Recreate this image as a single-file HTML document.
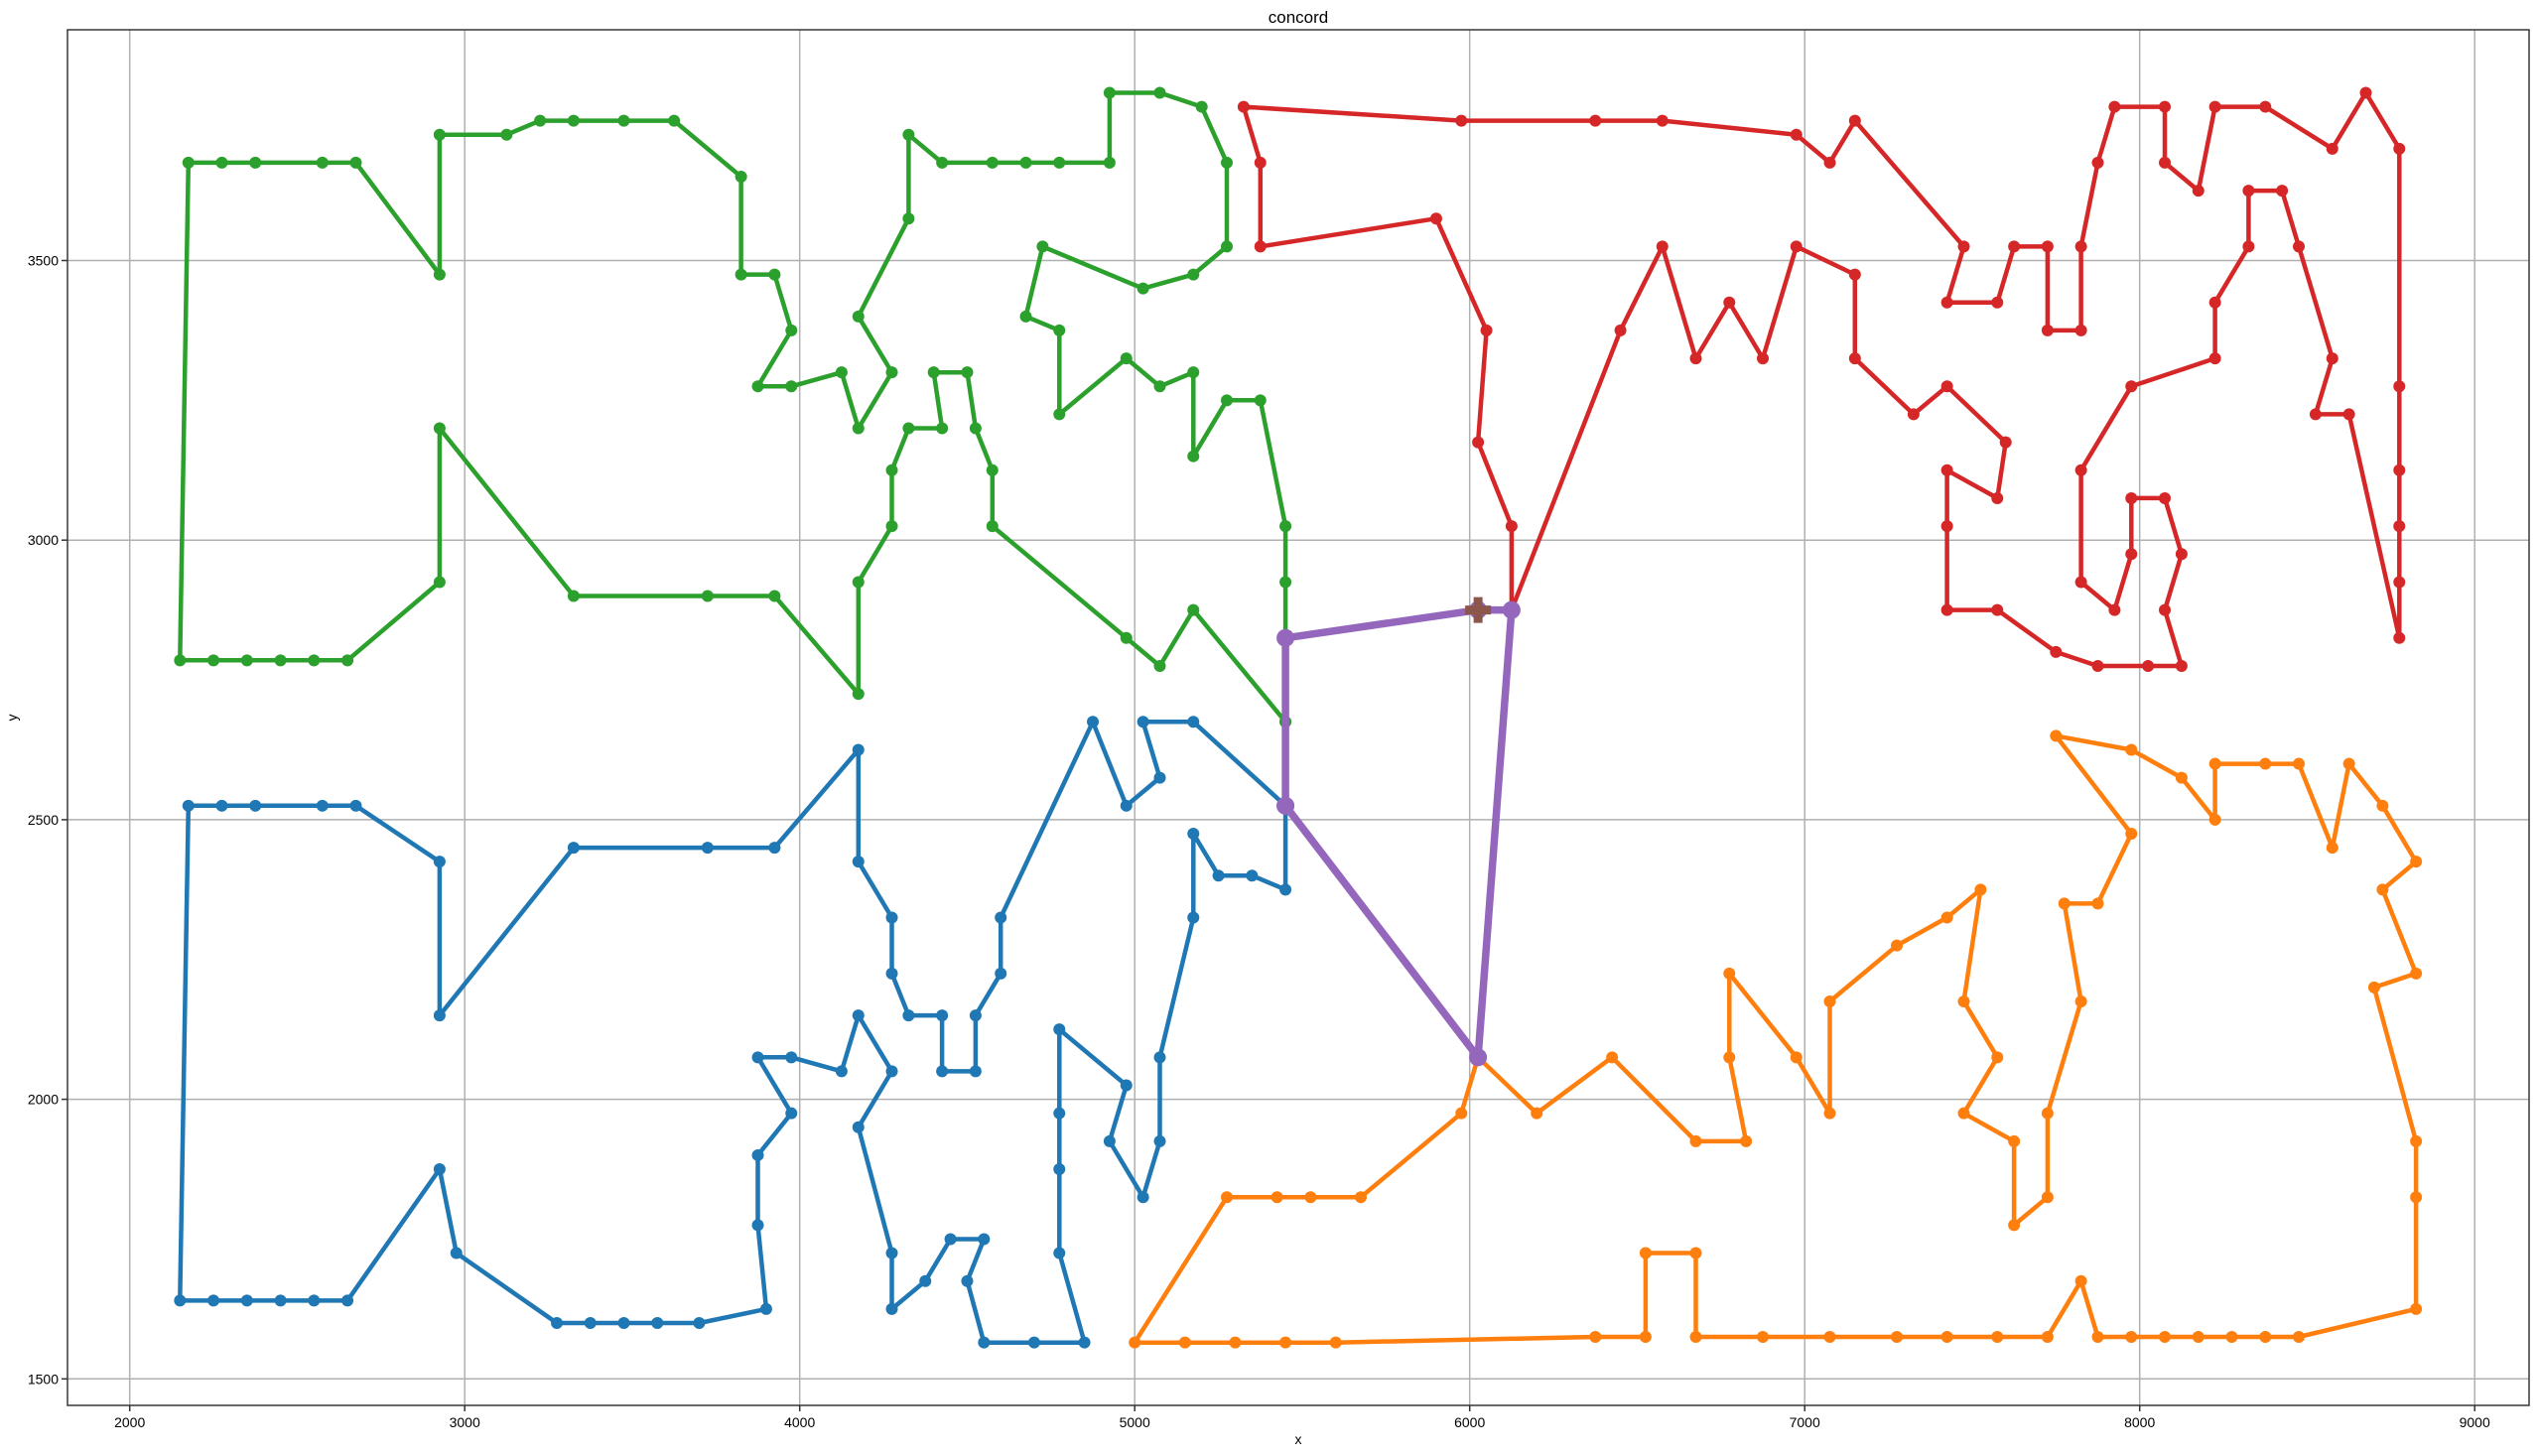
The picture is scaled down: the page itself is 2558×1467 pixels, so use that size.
<!DOCTYPE html>
<html><head><meta charset="utf-8"><style>
body{margin:0;background:#fff;}
svg{display:block;font-family:"Liberation Sans",sans-serif;}
</style></head><body>
<svg id="chart" width="2558" height="1467" xmlns="http://www.w3.org/2000/svg">
<rect width="2558" height="1467" fill="#fff"/>
<text x="1308" y="23" font-size="17" text-anchor="middle">concord</text>
<text x="1308" y="1455" font-size="14" text-anchor="middle">x</text>
<text x="17" y="723" font-size="14" text-anchor="middle" transform="rotate(-90 17 723)">y</text>
<g id="grid"></g>
<g id="series"></g>
<rect x="68" y="30" width="2480" height="1386" fill="none" stroke="#444" stroke-width="1.6"/>
<g id="ticks"></g>
</svg>
<script>
const xTicks=[2000,3000,4000,5000,6000,7000,8000,9000];
const yTicks=[1500,2000,2500,3000,3500];
const blueX=[5450,5175,5025,5075,4975,4875,4600,4600,4525,4525,4425,4425,4325,4275,4275,4175,4175,3925,3725,3325,2925,2925,2675,2575,2375,2275,2175,2150,2250,2350,2450,2550,2650,2925,2975,3275,3375,3475,3575,3700,3900,3875,3875,3975,3875,3975,4125,4175,4275,4175,4275,4275,4375,4450,4550,4500,4550,4700,4850,4775,4775,4775,4775,4975,4925,5025,5075,5075,5175,5175,5250,5350,5450,5450];
const blueY=[2525,2675,2675,2575,2525,2675,2325,2225,2150,2050,2050,2150,2150,2225,2325,2425,2625,2450,2450,2450,2150,2425,2525,2525,2525,2525,2525,1640,1640,1640,1640,1640,1640,1875,1725,1600,1600,1600,1600,1600,1625,1775,1900,1975,2075,2075,2050,2150,2050,1950,1725,1625,1675,1750,1750,1675,1565,1565,1565,1725,1875,1975,2125,2025,1925,1825,1925,2075,2325,2475,2400,2400,2375,2525];
const greenX=[5450,5175,5075,4975,4575,4575,4525,4500,4400,4425,4325,4275,4275,4175,4175,3925,3725,3325,2925,2925,2650,2550,2450,2350,2250,2150,2175,2275,2375,2575,2675,2925,2925,3125,3225,3325,3475,3625,3825,3825,3925,3975,3875,3975,4125,4175,4275,4175,4325,4325,4425,4575,4675,4775,4925,4925,5075,5200,5275,5275,5175,5025,4725,4675,4775,4775,4975,5075,5175,5175,5275,5375,5450,5450,5450];
const greenY=[2675,2875,2775,2825,3025,3125,3200,3300,3300,3200,3200,3125,3025,2925,2725,2900,2900,2900,3200,2925,2785,2785,2785,2785,2785,2785,3675,3675,3675,3675,3675,3475,3725,3725,3750,3750,3750,3750,3650,3475,3475,3375,3275,3275,3300,3200,3300,3400,3575,3725,3675,3675,3675,3675,3675,3800,3800,3775,3675,3525,3475,3450,3525,3400,3375,3225,3325,3275,3300,3150,3250,3250,3025,2925,2675];
const redX=[6125,6125,6025,6050,5900,5375,5375,5325,5975,6375,6575,6975,7075,7150,7475,7425,7575,7625,7725,7725,7825,7825,7875,7925,8075,8075,8175,8225,8375,8575,8675,8775,8775,8775,8775,8775,8775,8625,8525,8575,8475,8425,8325,8325,8225,8225,7975,7825,7825,7925,7975,7975,8075,8125,8075,8125,8025,7875,7750,7575,7425,7425,7425,7575,7600,7425,7325,7150,7150,6975,6875,6775,6675,6575,6450,6125];
const redY=[2875,3025,3175,3375,3575,3525,3675,3775,3750,3750,3750,3725,3675,3750,3525,3425,3425,3525,3525,3375,3375,3525,3675,3775,3775,3675,3625,3775,3775,3700,3800,3700,3275,3125,3025,2925,2825,3225,3225,3325,3525,3625,3625,3525,3425,3325,3275,3125,2925,2875,2975,3075,3075,2975,2875,2775,2775,2775,2800,2875,2875,3025,3125,3075,3175,3275,3225,3325,3475,3525,3325,3425,3325,3525,3375,2875];
const orangeX=[6025,6200,6425,6675,6825,6775,6775,6975,7075,7075,7275,7425,7525,7475,7575,7475,7625,7625,7725,7725,7825,7775,7875,7975,7750,7975,8125,8225,8225,8375,8475,8575,8625,8725,8825,8725,8825,8700,8825,8825,8825,8475,8375,8275,8175,8075,7975,7875,7825,7725,7575,7425,7275,7075,6875,6675,6675,6525,6525,6375,5600,5450,5300,5150,5000,5275,5425,5525,5675,5975,6025];
const orangeY=[2075,1975,2075,1925,1925,2075,2225,2075,1975,2175,2275,2325,2375,2175,2075,1975,1925,1775,1825,1975,2175,2350,2350,2475,2650,2625,2575,2500,2600,2600,2600,2450,2600,2525,2425,2375,2225,2200,1925,1825,1625,1575,1575,1575,1575,1575,1575,1575,1675,1575,1575,1575,1575,1575,1575,1575,1725,1725,1575,1575,1565,1565,1565,1565,1565,1825,1825,1825,1825,1975,2075];
const purpleX=[5450,5450,6025,6125,6025,5450];
const purpleY=[2525,2825,2875,2875,2075,2525];
const crossX=[6025];
const crossY=[2875];

const NS="http://www.w3.org/2000/svg";
const sx=v=>130.7+(v-2000)*0.3375;
const sy=v=>1389.3-(v-1500)*0.5634;
function mk(tag,attrs,parent){const e=document.createElementNS(NS,tag);for(const k in attrs)e.setAttribute(k,attrs[k]);parent.appendChild(e);return e;}
const grid=document.getElementById('grid'),ticks=document.getElementById('ticks'),ser=document.getElementById('series');
xTicks.forEach(t=>{
  const l=mk('line',{x1:sx(t),x2:sx(t),y1:30,y2:1416,stroke:'#b0b0b0','stroke-width':1.5},grid);
  
  
  const k=mk('line',{x1:sx(t),x2:sx(t),y1:1416,y2:1422,stroke:'#333','stroke-width':1.5},ticks);
  
  
  const tx=mk('text',{x:sx(t),y:1438,'font-size':14,'text-anchor':'middle'},ticks);
  tx.textContent=t;
  
  
});
yTicks.forEach(t=>{
  const l=mk('line',{x1:68,x2:2548,y1:sy(t),y2:sy(t),stroke:'#b0b0b0','stroke-width':1.5},grid);
  
  
  const k=mk('line',{x1:62,x2:68,y1:sy(t),y2:sy(t),stroke:'#333','stroke-width':1.5},ticks);
  
  
  const tx=mk('text',{x:59,y:sy(t)+5,'font-size':14,'text-anchor':'end'},ticks);
  tx.textContent=t;
  
  
});
function series(xs,ys,color,lw,r,name){
  const g=mk('g',{},ser);
  
  
  const pts=xs.map((x,i)=>sx(x).toFixed(1)+','+sy(ys[i]).toFixed(1)).join(' ');
  const pl=mk('polyline',{points:pts,fill:'none',stroke:color,'stroke-width':lw,'stroke-linejoin':'round'},g);
  
  
  xs.forEach((x,i)=>{
    const c=mk('circle',{cx:sx(x),cy:sy(ys[i]),r:r,fill:color},g);
    
    
  });
}
series(blueX,blueY,'#1f77b4',4.5,6,'blue-tour');
series(orangeX,orangeY,'#ff7f0e',4.5,6,'orange-tour');
series(greenX,greenY,'#2ca02c',4.5,6,'green-tour');
series(redX,redY,'#d62728',4.5,6,'red-tour');
series(purpleX,purpleY,'#9467bd',7.5,9,'purple-route');
crossX.forEach((x,i)=>{
  const cx=sx(x),cy=sy(crossY[i]);
  const p=mk('path',{d:`M${cx-4.5},${cy-13}h9v8.5h8.5v9h-8.5v8.5h-9v-8.5h-8.5v-9h8.5z`,fill:'#8c564b'},ser);
  
  
});
</script>
</body></html>
